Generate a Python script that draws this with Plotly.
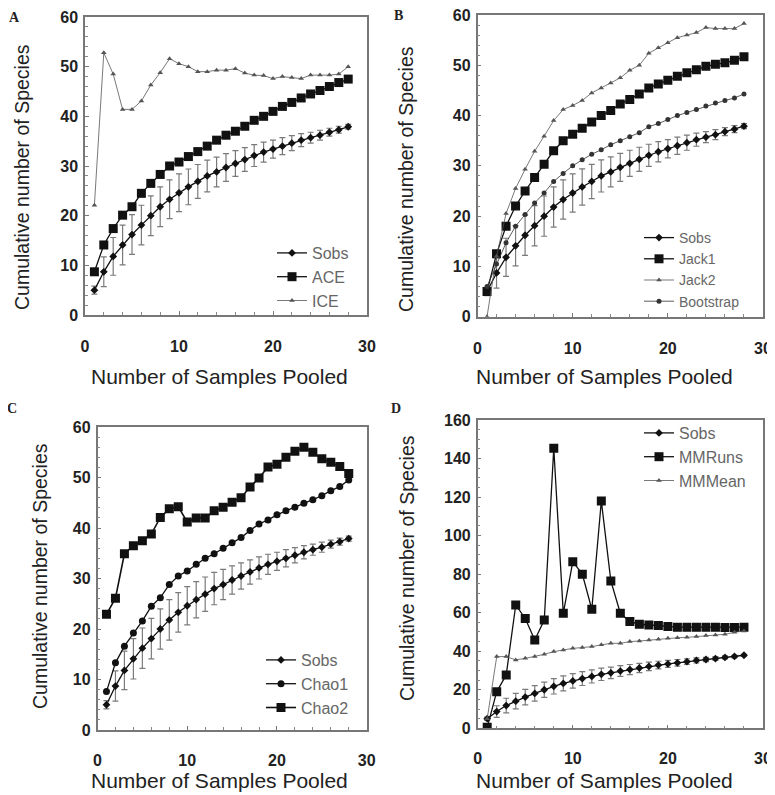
import plotly.graph_objects as go

samples = list(range(1, 29))

sobs = [5.0, 8.7, 11.8, 14.1, 16.2, 18.1, 20.0, 21.8, 23.3, 24.6, 25.8, 26.9, 28.0, 28.8,
        29.7, 30.5, 31.3, 32.1, 32.8, 33.4, 34.0, 34.6, 35.2, 35.7, 36.2, 36.8, 37.3, 37.9]
sobs_sd = [0.8, 3.0, 3.8, 4.0, 4.0, 4.0, 4.0, 4.0, 3.9, 3.8, 3.6, 3.4, 3.2, 3.0,
           2.8, 2.6, 2.4, 2.2, 2.0, 1.8, 1.7, 1.5, 1.3, 1.1, 1.0, 0.8, 0.7, 0.5]

# Panel A
ace = [8.7, 14.1, 17.4, 20.1, 21.8, 24.5, 26.5, 28.3, 30.0, 30.8, 31.9, 32.9, 34.0, 35.2,
       36.2, 37.0, 38.0, 39.2, 40.0, 41.0, 42.0, 42.8, 43.7, 44.5, 45.2, 46.0, 46.8, 47.5]
ice = [22.1, 52.8, 48.5, 41.4, 41.4, 43.1, 46.3, 48.8, 51.6, 50.6, 50.0, 49.0, 49.0, 49.3,
       49.3, 49.6, 48.7, 48.3, 48.2, 47.6, 48.0, 47.8, 47.6, 48.3, 48.3, 48.3, 48.5, 50.0]

# Panel B
jack1 = [5.0, 12.5, 18.0, 22.0, 25.0, 27.7, 30.3, 33.0, 35.0, 36.3, 37.5, 38.7, 40.0, 41.0,
         42.3, 43.2, 44.3, 45.5, 46.3, 47.0, 47.8, 48.5, 49.1, 49.8, 50.2, 50.5, 51.0, 51.7]
jack2 = [0.0, 12.0, 20.5, 25.5, 29.3, 32.9, 35.9, 39.0, 41.2, 42.0, 43.0, 44.5, 45.5, 46.5,
         47.5, 49.0, 50.0, 52.4, 53.5, 54.5, 55.5, 56.0, 56.5, 57.5, 57.3, 57.3, 57.3, 58.3]
bootstrap = [6.0, 10.5, 14.7, 18.0, 20.3, 22.6, 24.6, 26.9, 28.5, 30.0, 31.2, 32.3, 33.2, 34.2,
             35.0, 35.8, 36.6, 37.8, 38.4, 39.2, 40.0, 40.6, 41.2, 41.9, 42.5, 43.0, 43.5, 44.3]

# Panel C
chao1 = [7.6, 13.3, 16.6, 19.2, 21.6, 24.5, 26.2, 28.8, 30.5, 31.5, 32.8, 34.0, 34.9, 36.0,
         37.1, 38.1, 39.5, 40.8, 41.6, 42.6, 43.4, 44.1, 44.9, 45.6, 46.4, 47.4, 48.2, 49.5]
chao2 = [22.9, 26.1, 34.9, 36.5, 37.5, 38.8, 42.1, 43.8, 44.2, 41.2, 42.0, 42.0, 43.4, 44.1,
         45.1, 46.0, 48.1, 49.9, 52.1, 52.6, 54.0, 55.2, 56.0, 55.0, 53.7, 53.0, 52.2, 50.8]

# Panel D
mmruns = [0.5, 19.0, 27.7, 64.0, 57.0, 45.8, 56.2, 145.3, 59.7, 86.5, 80.0, 61.8, 118.0, 76.5,
          59.7, 55.4, 54.0, 53.6, 53.3, 52.8, 52.5, 52.5, 52.5, 52.5, 52.5, 52.3, 52.3, 52.5]
mmmean = [5.0, 37.2, 37.2, 35.5, 36.3, 37.2, 38.4, 39.8, 40.7, 41.5, 41.9, 42.4, 43.3, 44.1,
          44.1, 45.0, 45.3, 45.8, 46.2, 46.7, 47.0, 47.2, 47.6, 48.1, 48.4, 48.8, 49.8, 50.5]

x_ticks = [0, 10, 20, 30]
y_ticks_60 = [0, 10, 20, 30, 40, 50, 60]
y_ticks_160 = [0, 20, 40, 60, 80, 100, 120, 140, 160]

# The page body has a default 8px margin: size the figure so it ends at the window edge
OFF = 8
W, H = 775 - OFF, 795 - OFF
BLACK = "#111111"
FONT = "Liberation Sans, Arial, sans-serif"

fig = go.Figure()

def sobs_trace(ax, legend):
    return go.Scatter(
        x=samples, y=sobs, name="Sobs", xaxis="x" + ax, yaxis="y" + ax, legend=legend,
        mode="lines+markers",
        line=dict(color=BLACK, width=1.3),
        marker=dict(symbol="diamond", size=6, color=BLACK),
        error_y=dict(type="data", array=sobs_sd, visible=True, color="#7a7a7a",
                     thickness=1.2, width=3),
    )

def series(ax, legend, y, name, symbol, size, color, width):
    return go.Scatter(
        x=samples, y=y, name=name, xaxis="x" + ax, yaxis="y" + ax, legend=legend,
        mode="lines+markers",
        line=dict(color=color, width=width),
        marker=dict(symbol=symbol, size=size, color=color),
    )

# A
fig.add_trace(sobs_trace("", "legend"))
fig.add_trace(series("", "legend", ace, "ACE", "square", 9, BLACK, 1.3))
fig.add_trace(series("", "legend", ice, "ICE", "triangle-up", 5, "#555555", 0.8))
# B
fig.add_trace(sobs_trace("2", "legend2"))
fig.add_trace(series("2", "legend2", jack1, "Jack1", "square", 9, BLACK, 1.3))
fig.add_trace(series("2", "legend2", jack2, "Jack2", "triangle-up", 5, "#555555", 0.8))
fig.add_trace(series("2", "legend2", bootstrap, "Bootstrap", "circle", 5, "#333333", 0.8))
# C
fig.add_trace(sobs_trace("3", "legend3"))
fig.add_trace(series("3", "legend3", chao1, "Chao1", "circle", 7, BLACK, 1.3))
fig.add_trace(series("3", "legend3", chao2, "Chao2", "square", 9, BLACK, 1.6))
# D
fig.add_trace(sobs_trace("4", "legend4"))
fig.add_trace(series("4", "legend4", mmruns, "MMRuns", "square", 9, BLACK, 1.3))
fig.add_trace(series("4", "legend4", mmmean, "MMMean", "triangle-up", 5, "#555555", 0.8))

# window pixel -> paper fraction
def fx(px):
    return (px - OFF) / W

def fy(py):
    return 1 - (py - OFF) / H

def px_x(a, b):
    return [fx(a), fx(b)]

def px_y(top, bottom):
    return [fy(bottom), fy(top)]

panels = {
    "": dict(xd=px_x(85, 367), yd=px_y(17, 315), ymax=60, yt=y_ticks_60, ym=2, so=16),
    "2": dict(xd=px_x(477.5, 763), yd=px_y(15, 316.7), ymax=60, yt=y_ticks_60, ym=2, so=16),
    "3": dict(xd=px_x(97.5, 366.7), yd=px_y(427, 730), ymax=60, yt=y_ticks_60, ym=2, so=15),
    "4": dict(xd=px_x(477.7, 763), yd=px_y(420, 728.3), ymax=160, yt=y_ticks_160, ym=5, so=15),
}

axis_common = dict(
    showgrid=False, zeroline=False, showline=True, mirror=True, automargin=False,
    linecolor="#777777", linewidth=1.5,
    ticks="inside", ticklen=4, tickcolor="#777777",
    tickfont=dict(family=FONT, size=16, color="#222222", weight="bold"),
    ticklabeloverflow="allow",
)

layout = {}
for ax, p in panels.items():
    layout["xaxis" + ax] = dict(
        axis_common, domain=p["xd"], range=[0, 30], tickvals=x_ticks,
        anchor="y" + ax, ticklabelstandoff=p["so"],
        minor=dict(dtick=2, ticks="inside", ticklen=3, tickcolor="#888888"),
    )
    layout["yaxis" + ax] = dict(
        axis_common, domain=p["yd"], range=[0, p["ymax"]], tickvals=p["yt"],
        anchor="x" + ax, ticklabelstandoff=2,
        minor=dict(dtick=p["ym"], ticks="inside", ticklen=3, tickcolor="#888888"),
    )

def legend_cfg(x, y, size):
    return dict(
        bgcolor="rgba(0,0,0,0)", borderwidth=0, xanchor="left", yanchor="top",
        font=dict(family=FONT, size=size, color="#666666"), itemwidth=30,
        tracegroupgap=0, x=fx(x), y=fy(y),
    )

layout["legend"] = legend_cfg(272, 236, 16)
layout["legend2"] = legend_cfg(639, 222, 14)
layout["legend3"] = legend_cfg(261, 643, 16)
layout["legend4"] = legend_cfg(639, 416, 16)

annotations = []
def ann(text, x, y, size, angle=0, family=FONT, color="#222222", bold=False):
    annotations.append(dict(
        text=f"<b>{text}</b>" if bold else text, x=fx(x), y=fy(y),
        xref="paper", yref="paper", showarrow=False, textangle=angle,
        font=dict(family=family, size=size, color=color),
        xanchor="center", yanchor="middle",
    ))

xt = "Number of Samples Pooled"
yt = "Cumulative number of Species"
ann(xt, 219, 376, 21)
ann(xt, 604, 376, 21)
ann(xt, 219, 780, 21)
ann(xt, 604, 780, 21)
ann(yt, 22, 177, 19.5, angle=-90)
ann(yt, 406, 179, 19.5, angle=-90)
ann(yt, 40, 576, 19.5, angle=-90)
ann(yt, 407, 568, 19.5, angle=-90)
serif = "Liberation Serif, Times New Roman, serif"
ann("A", 14, 17, 14, family=serif, bold=True)
ann("B", 398, 16, 14, family=serif, bold=True)
ann("C", 12, 408, 14, family=serif, bold=True)
ann("D", 396, 409, 14, family=serif, bold=True)

fig.update_layout(
    width=W, height=H, margin=dict(l=0, r=0, t=0, b=0, autoexpand=False),
    paper_bgcolor="white", plot_bgcolor="white",
    showlegend=True, annotations=annotations, **layout,
)

fig.write_html("out.html")
